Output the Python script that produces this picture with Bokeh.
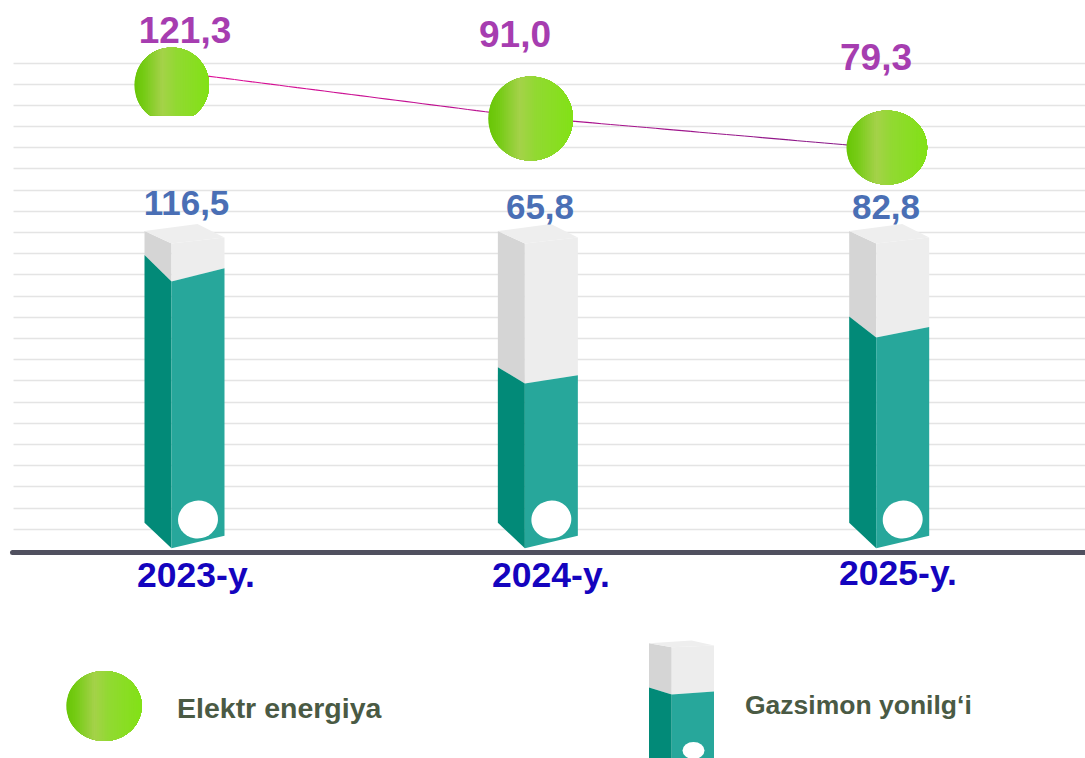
import math
from bokeh.plotting import figure
from bokeh.embed import file_html
from bokeh.resources import INLINE
from bokeh.core.properties import value
from bokeh.models import FixedTicker

# ---- data ----
years = [2023, 2024, 2025]
year_labels = ["2023-y.", "2024-y.", "2025-y."]
elec_labels = ["121,3", "91,0", "79,3"]
gas_labels = ["116,5", "65,8", "82,8"]
gas_levels = [126.9, 78.8, 100.5]      # height of the teal part as drawn
elec_levels = [219.6, 203.8, 190.1]    # bubble centres as drawn
line_levels = [226.0, 204.3, 189.7]    # connecting line as drawn
grid_levels = [10 * i for i in range(1, 24)]
legend_names = ["Elektr energiya", "Gazsimon yonilg\u2018i"]

# ---- layout ----
W, H = 1085, 758
PXY = 2.1195     # px per level
PXX = 352.15     # px per year
BASE = 550.0     # page y of level 0
X0 = 172.2       # page x of 2023

x_start = 2023 - X0 / PXX
y_end = BASE / PXY
y_start = (BASE - H) / PXY


def dx(px):
    return px / PXX


def dy(px):
    return px / PXY


def page_x(px):
    return 2023 + (px - X0) / PXX


def page_y(py):
    return (BASE - py) / PXY


p = figure(width=W, height=H, output_backend="svg", toolbar_location=None,
           x_range=(x_start, x_start + W / PXX), y_range=(y_start, y_end),
           min_border=0, outline_line_color=None, background_fill_color="white",
           border_fill_color="white")
p.xaxis.visible = False
p.yaxis.visible = False
p.xgrid.visible = False
p.ygrid.ticker = FixedTicker(ticks=grid_levels)
p.ygrid.grid_line_color = "#E4E4E4"
p.ygrid.grid_line_width = 1.4
p.ygrid.cross_bounds = (page_x(13), page_x(1085))

FONT = value("Liberation Sans")

# baseline
p.segment([page_x(12)], [page_y(552)], [page_x(1085)], [page_y(552)],
          line_color="#50505F", line_width=5, line_cap="round")

bubble_dx = [-1.0, 5.7, 9.8]
bubble_rx = [37.3, 42.3, 40.3]
bubble_ry = [37.5, 42.0, 37.0]

# connecting line, colour drifts from magenta to purple
C0, C1 = (226, 10, 150), (130, 25, 135)
N = 40
lx, ly, lc = [], [], []
for i in range(2):
    xa = years[i] + dx(bubble_dx[i])
    xb = years[i + 1] + dx(bubble_dx[i + 1])
    for k in range(N):
        t0, t1 = k / N, (k + 1) / N
        lx.append([xa + (xb - xa) * t0, xa + (xb - xa) * t1])
        ly.append([line_levels[i] + (line_levels[i + 1] - line_levels[i]) * t0,
                   line_levels[i] + (line_levels[i + 1] - line_levels[i]) * t1])
        f = (i + t0) / 2
        lc.append("#%02x%02x%02x" % tuple(int(a + (b - a) * f) for a, b in zip(C0, C1)))
p.multi_line(lx, ly, line_color=lc, line_width=1.1)


def lerp_grad(f):
    stops = [(0.0, (106, 198, 8)), (0.12, (118, 204, 22)), (0.36, (165, 210, 74)),
             (0.55, (146, 218, 50)), (1.0, (130, 226, 22))]
    for (a, ca), (b, cb) in zip(stops, stops[1:]):
        if f <= b:
            t = (f - a) / (b - a)
            return "#%02x%02x%02x" % tuple(int(u + (v - u) * t) for u, v in zip(ca, cb))
    return "#82e216"


def bubble(cx, cy_level, rx, ry, clip=None):
    """gradient ellipse: painter's slices, each reaching to the right edge"""
    xs, ys, cs = [], [], []
    M = 44
    n = 60
    for k in range(M):
        f = k / M
        a0 = math.acos(2 * f - 1)
        pts = []
        for j in range(n + 1):
            a = -a0 + 2 * a0 * j / n
            u = rx * math.cos(a)
            v = ry * math.sin(a)
            if clip is not None:
                v = max(v, -clip)
            pts.append((u, v))
        xs.append([cx + dx(u) for u, v in pts])
        ys.append([cy_level + dy(v) for u, v in pts])
        cs.append(lerp_grad(f))
    p.patches(xs, ys, fill_color=cs, line_color=None)


bubble(years[0] + dx(bubble_dx[0]), elec_levels[0], bubble_rx[0], bubble_ry[0], clip=30.5)
bubble(years[1] + dx(bubble_dx[1]), elec_levels[1], bubble_rx[1], bubble_ry[1])
bubble(years[2] + dx(bubble_dx[2]), elec_levels[2], bubble_rx[2], bubble_ry[2])
# legend bubble
bubble(page_x(103.5), page_y(705.5), 37.7, 35)

TEAL_S, TEAL_F, GRAY_S, GRAY_F, GRAY_T = "#028A78", "#27A79B", "#D5D5D5", "#EDEDED", "#EEEEEE"


def column(xc, level_top, level_gas, base_level, wl=27, wr=53, back_px=26,
           tops=(12.5, 6, 19.5), bots=(25.5, 12.5), k_left=0.21, k_right=0.105):
    left = xc - dx(wl)
    right = xc + dx(wr)
    back = xc + dx(back_px)
    top_l = level_top + dy(tops[0])
    top_r = level_top + dy(tops[1])
    top_b = level_top + dy(tops[2])
    bot_l = base_level + dy(bots[0])
    bot_r = base_level + dy(bots[1])
    gl = level_gas + dy(k_left * PXY * (level_gas - base_level) / 2.118)
    gr = level_gas + dy(k_right * PXY * (level_gas - base_level) / 2.118)
    p.patches(
        [[left, xc, xc, left], [xc, right, right, xc],
         [left, back, right, xc],
         [left, xc, xc, left], [xc, right, right, xc]],
        [[top_l, level_top, level_gas, gl], [level_top, top_r, gr, level_gas],
         [top_l, top_b, top_r, level_top],
         [gl, level_gas, base_level, bot_l], [level_gas, gr, bot_r, base_level]],
        fill_color=[GRAY_S, GRAY_F, GRAY_T, TEAL_S, TEAL_F], line_color=None)


BAR_BASE = page_y(547.7)
bar_dx = [-1.2, 0.0, -0.8]
for i in range(3):
    column(years[i] + dx(bar_dx[i]), page_y(243), gas_levels[i], BAR_BASE)
p.ellipse([y + dx(26.5 + d) for y, d in zip(years, bar_dx)], [page_y(519)] * 3, width=40, height=38,
          width_units="screen", height_units="screen", angle=0.2,
          fill_color="white", line_color=None)

# legend column (runs off the bottom of the page)
column(page_x(671.2), page_y(646.7), page_y(694), page_y(775), wl=22.7, wr=42.3, back_px=20,
       tops=(4, 1.7, 6.7), bots=(8, 4), k_left=0.18, k_right=0.08)
p.ellipse([page_x(693)], [page_y(750)], width=22, height=17, width_units="screen",
          height_units="screen", fill_color="white", line_color=None)

# texts
elec_x = [184.5, 514.5, 875.5]
elec_y = [29, 33, 56]
p.text([page_x(v) for v in elec_x], [page_y(v) for v in elec_y], text=elec_labels,
       text_font=FONT, text_font_style="bold", text_font_size="37px",
       text_color="#A63DB0", text_align="center", text_baseline="alphabetic")
gas_x = [186, 539.5, 885.5]
gas_y = [202, 206, 206]
p.text([page_x(v) for v in gas_x], [page_y(v) for v in gas_y], text=gas_labels,
       text_font=FONT, text_font_style="bold", text_font_size="35px",
       text_color="#4A6FB5", text_align="center", text_baseline="alphabetic")
yl_x = [195.5, 550.5, 897.5]
yl_y = [574, 574, 572]
p.text([page_x(v) for v in yl_x], [page_y(v) for v in yl_y], text=year_labels,
       text_font=FONT, text_font_style="bold", text_font_size="35.5px",
       text_color="#1404BE", text_align="center", text_baseline="alphabetic")
p.text([page_x(176.5)], [page_y(707)], text=[legend_names[0]],
       text_font=FONT, text_font_style="bold", text_font_size="28.5px",
       text_color="#4A5A44", text_align="left", text_baseline="alphabetic")
p.text([page_x(744.5)], [page_y(704)], text=[legend_names[1]],
       text_font=FONT, text_font_style="bold", text_font_size="26.5px",
       text_color="#4A5A44", text_align="left", text_baseline="alphabetic")

open("out.html", "w").write(file_html(p, INLINE))
